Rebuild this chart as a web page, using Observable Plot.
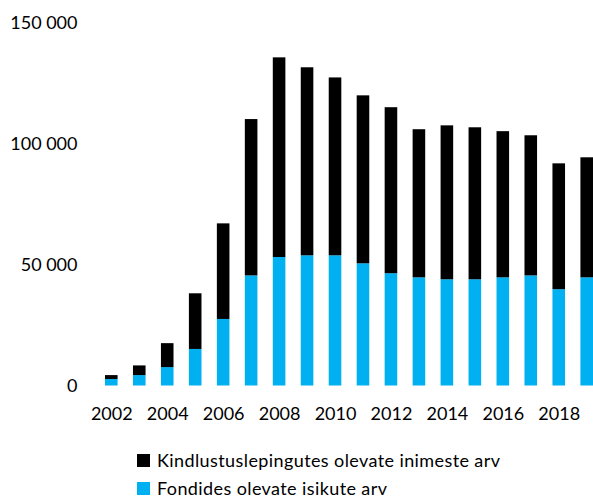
<!DOCTYPE html>
<html>
<head>
<meta charset="utf-8">
<script src="https://cdn.jsdelivr.net/npm/d3@7"></script>
<script src="https://cdn.jsdelivr.net/npm/@observablehq/plot@0.6"></script>
<style>
  html, body { margin: 0; padding: 0; background: #fff; width: 593px; height: 500px; overflow: hidden; }
  #chart { height: 443px; }
  #legend { font-family: Lato, "Open Sans", sans-serif; font-size: 18px; line-height: 20px; color: #000; margin-left: 137px; padding-top: 3px; letter-spacing: 0.4px; }
  .row { height: 28px; display: flex; align-items: center; }
  .sw { width: 13px; height: 13px; margin-right: 7px; flex: none; }
</style>
</head>
<body>
<div id="chart"></div>
<div id="legend"></div>
<script>
const years = [2002, 2003, 2004, 2005, 2006, 2007, 2008, 2009, 2010, 2011, 2012, 2013, 2014, 2015, 2016, 2017, 2018, 2019];
const funds = [2700, 4300, 7600, 15100, 27500, 45500, 53100, 53800, 53800, 50500, 46400, 44700, 43900, 43900, 44700, 45500, 39800, 44700];
const insurance = [1600, 4000, 9900, 23000, 39500, 64600, 82500, 77700, 73500, 69400, 68600, 61200, 63600, 62800, 60400, 57900, 52000, 49600];
const seriesNames = ["Fondides olevate isikute arv", "Kindlustuslepingutes olevate inimeste arv"];
const seriesColors = ["#00B0F0", "#000000"];
const yTicks = [0, 50000, 100000, 150000];
const xTicks = [2002, 2004, 2006, 2008, 2010, 2012, 2014, 2016, 2018];

const data = years.flatMap((year, i) => [
  {year, series: seriesNames[0], value: funds[i]},
  {year, series: seriesNames[1], value: insurance[i]}
]);

const chart = Plot.plot({
  width: 593,
  height: 443,
  marginTop: 22.5,
  marginBottom: 57.5,
  marginLeft: 105,
  marginRight: 0,
  style: {fontFamily: "Lato, 'Open Sans', sans-serif", fontSize: "18px", color: "#000", background: "#fff"},
  x: {type: "band", domain: years, paddingInner: 0.55, paddingOuter: 0, round: false, axis: null},
  y: {domain: [0, 150000], axis: null},
  color: {domain: seriesNames, range: seriesColors},
  marks: [
    Plot.barY(data, {x: "year", y: "value", fill: "series", order: seriesNames}),
    Plot.axisY({ticks: yTicks, tickSize: 0, tickPadding: 28, label: null, fontSize: 18,
      tickFormat: d => d3.format(",")(d).replace(/,/g, " ")}),
    Plot.axisX({ticks: xTicks, tickSize: 0, tickPadding: 21, label: null, fontSize: 18,
      tickFormat: d => String(d)})
  ]
});
document.getElementById("chart").appendChild(chart);

const legend = document.getElementById("legend");
[1, 0].forEach(i => {
  const row = document.createElement("div");
  row.className = "row";
  const sw = document.createElement("div");
  sw.className = "sw";
  sw.style.background = seriesColors[i];
  const label = document.createElement("span");
  label.textContent = seriesNames[i];
  row.appendChild(sw);
  row.appendChild(label);
  legend.appendChild(row);
});
</script>
</body>
</html>
